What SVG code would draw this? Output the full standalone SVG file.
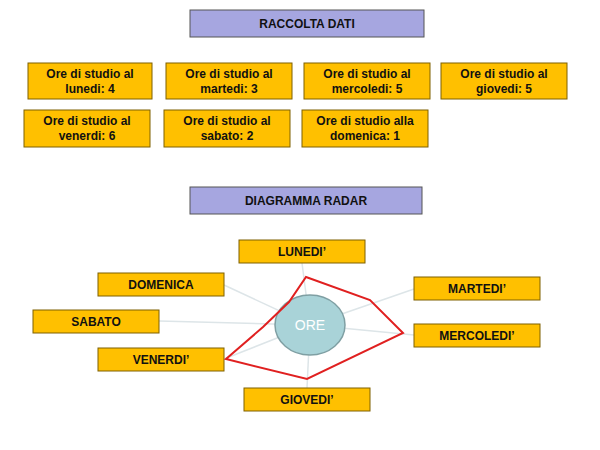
<svg xmlns="http://www.w3.org/2000/svg" width="600" height="450" viewBox="0 0 600 450">
<style>
.b{fill:#FFC000;stroke:#7F6000;stroke-width:1}
.h{fill:#A6A6E0;stroke:#555;stroke-width:1}
text{font-family:"Liberation Sans",Arial,sans-serif;font-weight:bold;font-size:12px;fill:#111;text-anchor:middle}
.s{stroke:#DDE5E8;stroke-width:1.5}
</style>
<rect width="600" height="450" fill="#fff"/>
<g id="connectors">
<line class="s" x1="310" y1="325" x2="302" y2="263"/>
<line class="s" x1="310" y1="325" x2="224" y2="285"/>
<line class="s" x1="310" y1="325" x2="414" y2="289"/>
<line class="s" x1="310" y1="325" x2="159" y2="321"/>
<line class="s" x1="310" y1="325" x2="414" y2="335"/>
<line class="s" x1="310" y1="325" x2="224" y2="359"/>
<line class="s" x1="310" y1="325" x2="307" y2="388"/>
</g>
<g id="raccolta"><rect class="h" x="190" y="10" width="234" height="27"/><text x="307" y="28">RACCOLTA DATI</text></g>
<g id="lun"><rect class="b" x="28" y="63" width="124" height="36"/><text x="90" y="78">Ore di studio al</text><text x="90" y="93">lunedi: 4</text></g>
<g id="mar"><rect class="b" x="166" y="63" width="126" height="36"/><text x="229" y="78">Ore di studio al</text><text x="229" y="93">martedi: 3</text></g>
<g id="mer"><rect class="b" x="304" y="63" width="126" height="36"/><text x="367" y="78">Ore di studio al</text><text x="367" y="93">mercoledi: 5</text></g>
<g id="gio"><rect class="b" x="441" y="63" width="126" height="36"/><text x="504" y="78">Ore di studio al</text><text x="504" y="93">giovedi: 5</text></g>
<g id="ven"><rect class="b" x="24" y="110" width="126" height="37"/><text x="87" y="125">Ore di studio al</text><text x="87" y="140">venerdi: 6</text></g>
<g id="sab"><rect class="b" x="164" y="110" width="126" height="37"/><text x="227" y="125">Ore di studio al</text><text x="227" y="140">sabato: 2</text></g>
<g id="dom"><rect class="b" x="302" y="110" width="126" height="37"/><text x="365" y="125">Ore di studio alla</text><text x="365" y="140">domenica: 1</text></g>
<g id="radar"><rect class="h" x="190" y="187" width="232" height="27"/><text x="306" y="205">DIAGRAMMA RADAR</text></g>
<g id="ore"><ellipse cx="310" cy="325" rx="35" ry="30" fill="#A9D3D8" stroke="#7F9FA3" stroke-width="1.5"/><text x="310" y="330" style="font-weight:normal;font-size:14px;fill:#fff">ORE</text></g>
<g id="LUN"><rect class="b" x="239" y="240" width="126" height="23"/><text x="302" y="256">LUNEDI’</text></g>
<g id="DOM"><rect class="b" x="98" y="273" width="126" height="23"/><text x="161" y="289">DOMENICA</text></g>
<g id="MAR"><rect class="b" x="414" y="277" width="126" height="23"/><text x="477" y="293">MARTEDI’</text></g>
<g id="SAB"><rect class="b" x="33" y="310" width="126" height="23"/><text x="96" y="326">SABATO</text></g>
<g id="MER"><rect class="b" x="414" y="324" width="126" height="23"/><text x="477" y="340">MERCOLEDI’</text></g>
<g id="VEN"><rect class="b" x="98" y="348" width="126" height="23"/><text x="161" y="364">VENERDI’</text></g>
<g id="GIO"><rect class="b" x="244" y="388" width="126" height="23"/><text x="307" y="404">GIOVEDI’</text></g>
<g id="polygon"><polygon points="306,277 370,300 403,333 307,379 226,359 263,327 289,302" fill="none" stroke="#E02020" stroke-width="2"/></g>
</svg>
